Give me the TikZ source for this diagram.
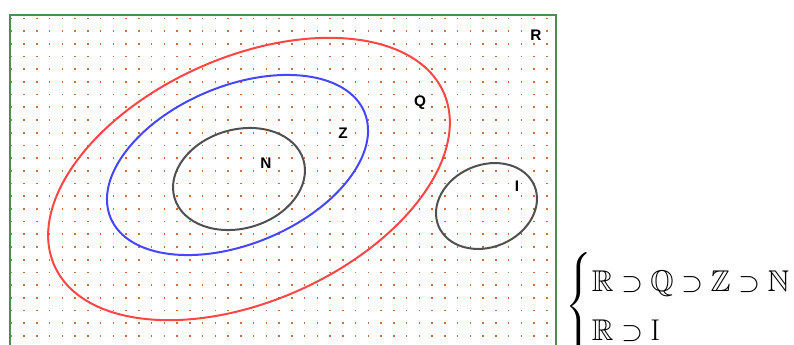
\documentclass[tikz,border=0pt]{standalone}
\usepackage{amssymb}
\usepackage{fontspec}
\newfontfamily\lblfont{Liberation Sans}
\begin{document}
\begin{tikzpicture}[x=0.75pt,y=-0.75pt]
\definecolor{dotc}{RGB}{196,112,64}
\definecolor{qred}{RGB}{255,70,70}
\definecolor{zblue}{RGB}{70,70,255}
\definecolor{ngrey}{RGB}{80,80,80}
\definecolor{framegreen}{RGB}{80,140,80}
\tikzset{
  setlabel/.style={font=\lblfont\bfseries\fontsize{11.5}{13}\selectfont, inner sep=0pt},
  setcurve/.style={line width=1.5pt},
}
\useasboundingbox (0,0) rectangle (794,344);
\fill[white] (0,0) rectangle (794,344);
\clip (0,0) rectangle (794,344);
% dot grid
\foreach \i in {0,...,42}{
  \foreach \j in {0,...,25}{
    \fill[dotc] (10.5+12.75*\i, 17.5+12.7*\j) rectangle ++(1.7,1.7);
  }
}
% frame
\draw[framegreen, line width=1.6pt] (10,14.7) rectangle (556,380);
% ellipses
\draw[setcurve, qred, rotate around={24:(249,179)}] (249,179) ellipse [x radius=213, y radius=122];
\draw[setcurve, zblue, rotate around={22.6:(237.5,165)}] (237.5,165) ellipse [x radius=137.5, y radius=79];
\draw[setcurve, ngrey, rotate around={16.3:(239,179)}] (239,179) ellipse [x radius=67.2, y radius=49.4];
\draw[setcurve, ngrey, rotate around={23:(486.5,206)}] (486.5,206) ellipse [x radius=52, y radius=41.1];
% labels
\node[setlabel] (lR) at (536,35) {R};
\node[setlabel] (lQ) at (420,103) {Q};
\node[setlabel] (lZ) at (343,133) {Z};
\node[setlabel] (lN) at (266,163) {N};
\node[setlabel] (lI) at (517,186) {I};
% relations
\node[anchor=west, inner sep=0pt, font=\fontsize{22.5}{27}\selectfont] (rel) at (565,306)
  {\renewcommand{\arraystretch}{1.35}$\left\{\begin{array}{@{}l@{}}\mathbb{R}\supset\mathbb{Q}\supset\mathbb{Z}\supset\mathbb{N}\\ \mathbb{R}\supset\mathrm{I}\end{array}\right.$};
\end{tikzpicture}
\end{document}
